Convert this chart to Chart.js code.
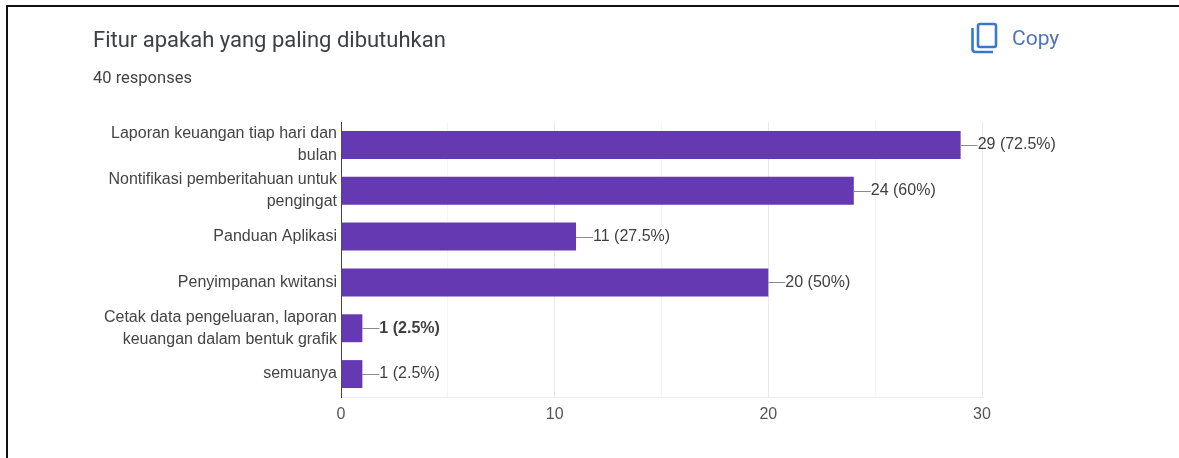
<!DOCTYPE html>
<html>
<head>
<meta charset="utf-8">
<title>Fitur apakah yang paling dibutuhkan</title>
<script src="https://cdn.jsdelivr.net/npm/chart.js@4"></script>
<style>
    html, body { margin: 0; padding: 0; background: #fff; overflow: hidden; }
    #frame { position: absolute; left: 6px; top: 5px; width: 1173px; height: 453px; border-left: 2px solid #111; border-top: 2px solid #111; box-sizing: border-box; }
    #eventsChart { position: absolute; left: 0; top: 0; }
    .text { position: absolute; font-family: Roboto, sans-serif; white-space: nowrap; }
    #title { left: 93px; top: 27px; font-size: 22px; line-height: 26px; color: #3c4043; }
    #count { left: 93px; top: 68px; font-size: 16.5px; line-height: 20px; color: #444; }
    #copy { left: 1012px; top: 26px; font-size: 21px; line-height: 24px; color: #4f74b8; }
    #copyIcon { position: absolute; left: 970px; top: 22px; }
</style>
</head>
<body>
<div id="frame"></div>
<canvas id="eventsChart" width="1179" height="458"></canvas>
<div class="text" id="title">Fitur apakah yang paling dibutuhkan</div>
<div class="text" id="count">40 responses</div>
<svg id="copyIcon" width="28" height="32" viewBox="0 0 28 32" fill="none" stroke="#3b78c9" stroke-width="2.6">
    <rect x="8" y="2" width="18" height="23" rx="2"></rect>
    <path d="M2.5 6 V27 Q2.5 30 5.5 30 H23"></path>
</svg>
<div class="text" id="copy">Copy</div>

<script>
const totalResponses = 40;
const categories = [
    ['Laporan keuangan tiap hari dan', 'bulan'],
    ['Nontifikasi pemberitahuan untuk', 'pengingat'],
    'Panduan Aplikasi',
    'Penyimpanan kwitansi',
    ['Cetak data pengeluaran, laporan', 'keuangan dalam bentuk grafik'],
    'semuanya'
];
const counts = [29, 24, 11, 20, 1, 1];
const boldRows = [4];
const xTickLabels = [0, 10, 20, 30];

// Label text next to each bar, e.g. 29 (72.5%)
function valueLabel(count) {
    var percent = Math.round(count / totalResponses * 1000) / 10;
    return count + ' (' + percent + '%)';
}

// Short connector and count label drawn after the end of each bar
const barLabels = {
    id: 'barLabels',
    afterDatasetsDraw(chart) {
        const ctx = chart.ctx;
        const bars = chart.getDatasetMeta(0).data;
        ctx.save();
        bars.forEach((bar, i) => {
            ctx.strokeStyle = '#8a8a8a';
            ctx.lineWidth = 1;
            ctx.beginPath();
            ctx.moveTo(bar.x, Math.round(bar.y) + 0.5);
            ctx.lineTo(bar.x + 17, Math.round(bar.y) + 0.5);
            ctx.stroke();

            ctx.fillStyle = '#3f3f3f';
            ctx.font = (boldRows.includes(i) ? 'bold ' : '') + '16px "Liberation Sans"';
            ctx.textBaseline = 'middle';
            ctx.fillText(valueLabel(counts[i]), bar.x + 17, bar.y);
        });
        ctx.restore();
    }
};

new Chart(document.getElementById('eventsChart').getContext('2d'), {
    type: 'bar',
    data: {
        labels: categories,
        datasets: [{
            data: counts,
            backgroundColor: '#6539b2',
            barPercentage: 0.61,
            categoryPercentage: 1
        }]
    },
    options: {
        indexAxis: 'y',
        responsive: false,
        animation: false,
        layout: { padding: { top: 122, right: 197, bottom: 0, left: 0 } },
        plugins: {
            legend: { display: false },
            tooltip: { enabled: false }
        },
        scales: {
            x: {
                min: 0,
                max: 30,
                afterFit(scale) { scale.height = 61; },
                ticks: {
                    stepSize: 5,
                    maxRotation: 0,
                    padding: 8,
                    color: '#555',
                    font: { family: '"Liberation Sans"', size: 16 },
                    callback: value => xTickLabels.includes(value) ? value : ''
                },
                grid: {
                    drawTicks: false,
                    color: ctx => ctx.tick.value % 10 === 0 ? '#e9e9e9' : '#f5f5f5'
                },
                border: { color: '#eeeeee' }
            },
            y: {
                afterFit(scale) { scale.width = 341; },
                ticks: {
                    autoSkip: false,
                    padding: 4,
                    color: '#444',
                    font: { family: '"Liberation Sans"', size: 16, lineHeight: 1.375 }
                },
                grid: { display: false, drawTicks: false },
                border: { display: true, color: '#444', width: 1 }
            }
        }
    },
    plugins: [barLabels]
});
</script>
</body>
</html>
